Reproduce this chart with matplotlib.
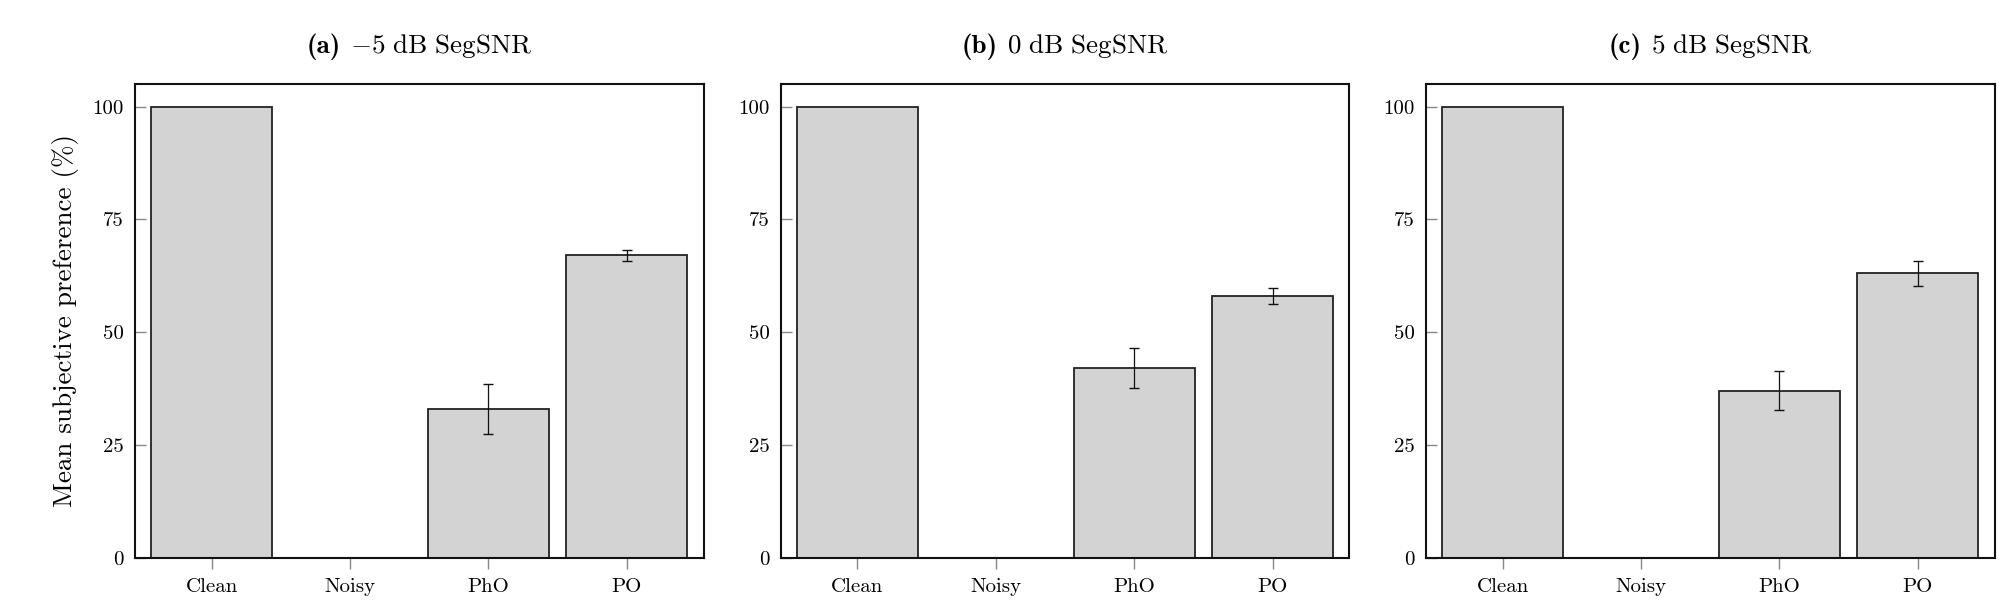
import matplotlib
matplotlib.use("Agg")
import matplotlib.pyplot as plt
import numpy as np
from matplotlib.offsetbox import TextArea, HPacker, AnchoredOffsetbox

categories = ["Clean", "Noisy", "PhO", "PO"]
panel_tags = ["(a)", "(b)", "(c)"]
panel_titles = [r"$-5\ \mathrm{dB\ SegSNR}$", r"$0\ \mathrm{dB\ SegSNR}$", r"$5\ \mathrm{dB\ SegSNR}$"]
values_m5 = [100, 0, 33.0, 67.0]
errors_m5 = [0, 0, 5.6, 1.25]
values_0 = [100, 0, 42.0, 58.0]
errors_0 = [0, 0, 4.4, 1.75]
values_5 = [100, 0, 37.0, 63.0]
errors_5 = [0, 0, 4.3, 2.75]
yticks = [0, 25, 50, 75, 100]
ylabel = "Mean subjective preference (%)"

plt.rcParams["font.family"] = "serif"
plt.rcParams["font.serif"] = ["cmr10"]
plt.rcParams["mathtext.fontset"] = "cm"

W, H = 2012, 611
fig = plt.figure(figsize=(W / 100, H / 100), dpi=100)
lefts = [135.0, 780.7, 1426.0]
ax_w = 568.5
top_px, bot_px = 84.0, 557.7

data = [(values_m5, errors_m5), (values_0, errors_0), (values_5, errors_5)]
x = np.arange(len(categories))
for i, (vals, errs) in enumerate(data):
    ax = fig.add_axes([lefts[i] / W, 1 - bot_px / H, ax_w / W, (bot_px - top_px) / H])
    lws = [1.3 if v > 0 else 0 for v in vals]
    ax.bar(x, vals, width=0.875, color="#d3d3d3", edgecolor="#222222", linewidth=lws, zorder=2)
    yerr = [e if e > 0 else np.nan for e in errs]
    ax.errorbar(x, vals, yerr=yerr, fmt="none", ecolor="#111111", elinewidth=0.9,
                capsize=3.8, capthick=1.0, zorder=3)
    ax.set_xlim(-0.555, 3.554)
    ax.set_ylim(0, 105)
    ax.set_xticks(x)
    ax.set_xticklabels(categories, fontsize=15)
    ax.set_yticks(yticks)
    ax.set_yticklabels([str(t) for t in yticks], fontsize=15)
    ax.tick_params(axis="x", direction="out", length=7.7, width=1.0, color="#888888", pad=7)
    ax.tick_params(axis="y", direction="in", length=7.7, width=1.0, color="#888888", pad=8)
    for sp in ax.spines.values():
        sp.set_linewidth(1.5)
        sp.set_color("#111111")
        sp.set_zorder(5)
    t1 = TextArea(panel_tags[i], textprops=dict(family="cmb10", size=19.5))
    t2 = TextArea(panel_titles[i], textprops=dict(size=19.5))
    box = HPacker(children=[t1, t2], align="baseline", pad=0, sep=6.5)
    anch = AnchoredOffsetbox(loc="lower center", child=box, pad=0, borderpad=0, frameon=False,
                             bbox_to_anchor=(0.5, 1 + 24 / (bot_px - top_px)),
                             bbox_transform=ax.transAxes)
    ax.add_artist(anch)
    if i == 0:
        ax.set_ylabel(ylabel, fontsize=19.5, labelpad=10)

fig.savefig("out.png", dpi=100)
